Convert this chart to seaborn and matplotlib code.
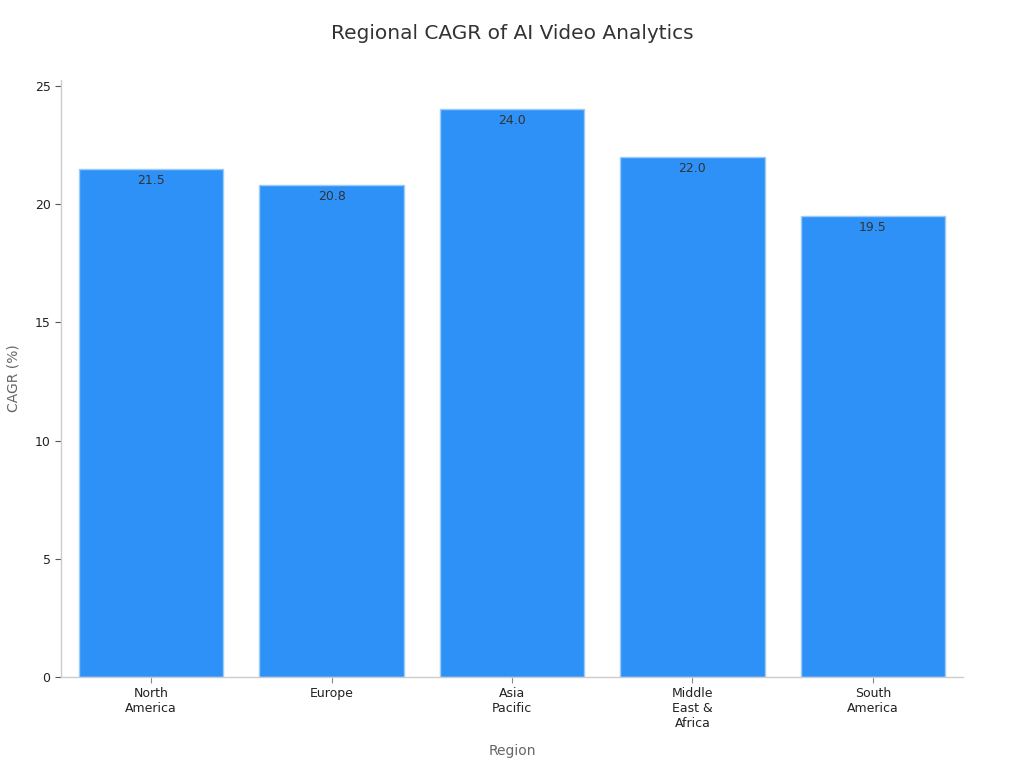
import matplotlib
matplotlib.use("Agg")
import matplotlib.pyplot as plt
import seaborn as sns
import pandas as pd

# data
regions = ["North\nAmerica", "Europe", "Asia\nPacific", "Middle\nEast &\nAfrica", "South\nAmerica"]
cagr = [21.5, 20.8, 24.0, 22.0, 19.5]

df = pd.DataFrame({"Region": regions, "CAGR": cagr})

sns.set_theme(style="white")
plt.rcParams["font.family"] = ["DejaVu Sans"]

fig = plt.figure(figsize=(10.24, 7.68), dpi=100)
ax = fig.add_axes([0.0596, 0.1185, 0.8808, 0.7775])

sns.barplot(data=df, x="Region", y="CAGR", color="#2E91F8", saturation=1,
            width=0.8, edgecolor="#9CCBF7", linewidth=1, ax=ax)

for container in ax.containers:
    ax.bar_label(container, fmt="%.1f", padding=-13, fontsize=9, color="#333333")

ax.set_ylim(0, 25.25)
ax.set_xlim(-0.5, 4.5)
ax.set_title("Regional CAGR of AI Video Analytics", fontsize=14.5, color="#333333", pad=29.5)
ax.set_xlabel("Region", fontsize=10, color="#666666", labelpad=10)
ax.set_ylabel("CAGR (%)", fontsize=10, color="#666666", labelpad=10)
ax.tick_params(axis="both", bottom=True, left=True, labelsize=9, length=4, width=0.8)
ax.tick_params(axis="x", colors="#888888", labelcolor="#222222")
ax.tick_params(axis="y", colors="#555555", labelcolor="#222222")

sns.despine(ax=ax)
for side in ["left", "bottom"]:
    ax.spines[side].set_color("#CCCCCC")
    ax.spines[side].set_linewidth(1)

fig.savefig("out.png", dpi=100)
